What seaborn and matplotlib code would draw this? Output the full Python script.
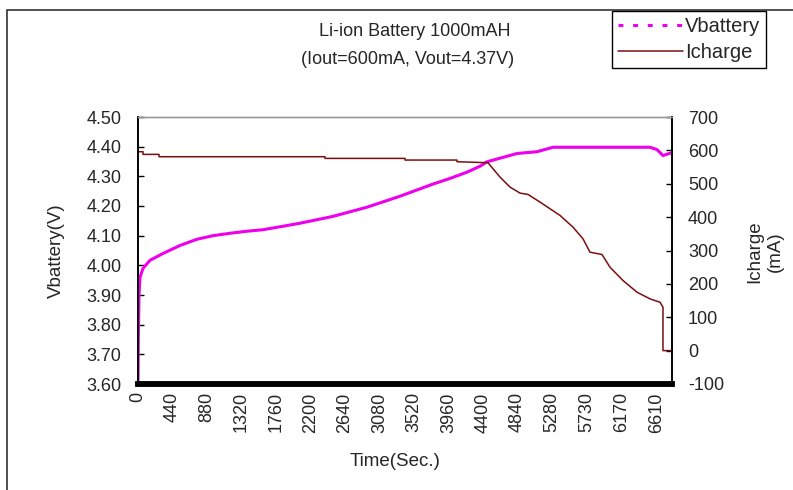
import numpy as np
import pandas as pd
import matplotlib
matplotlib.use("Agg")
import matplotlib.pyplot as plt
from matplotlib.lines import Line2D
from matplotlib.patches import Rectangle
import seaborn as sns

# Data
time_v = [0, 4, 13, 26, 64, 153, 319, 536, 753, 957, 1173, 1390, 1594, 1811,
          2066, 2487, 2921, 3342, 3763, 3980, 4196, 4362, 4451, 4834, 5089,
          5293, 6531, 6620, 6696, 6786]
vbattery = [3.60, 3.75, 3.90, 3.96, 3.99, 4.017, 4.04, 4.067, 4.088, 4.10,
            4.108, 4.115, 4.12, 4.13, 4.142, 4.165, 4.196, 4.233, 4.274,
            4.293, 4.314, 4.334, 4.349, 4.377, 4.383, 4.398, 4.398, 4.39,
            4.37, 4.378]

time_i = [0, 64, 64, 268, 268, 2385, 2385, 3406, 3406, 4069, 4069, 4464,
          4617, 4745, 4872, 4974, 5128, 5383, 5548, 5676, 5765, 5918, 6020,
          6186, 6365, 6531, 6658, 6696, 6696, 6798]
icharge = [596, 596, 588, 588, 581, 581, 576, 576, 571, 571, 566, 563,
           520, 490, 472, 468, 445, 405, 370, 335, 295, 288, 250,
           210, 175, 155, 145, 130, 0, 0]

time_ticks = [0, 440, 880, 1320, 1760, 2200, 2640, 3080, 3520, 3960, 4400,
              4840, 5280, 5730, 6170, 6610]
v_ticks = [3.60, 3.70, 3.80, 3.90, 4.00, 4.10, 4.20, 4.30, 4.40, 4.50]
i_ticks = [-100, 0, 100, 200, 300, 400, 500, 600, 700]

sns.set_theme(style="white")
plt.rcParams['font.family'] = ['Liberation Sans', 'DejaVu Sans']

magenta = '#ee00ee'
brown = '#7a0f0f'
W, H = 793, 490

fig = plt.figure(figsize=(7.93, 4.90), dpi=100)
ax = fig.add_axes([138 / W, 1 - 384 / H, (672 - 138) / W, (384 - 117) / H])
ax2 = ax.twinx()

sns.lineplot(x=time_v, y=vbattery, ax=ax, color=magenta, lw=2.2,
             estimator=None, legend=False)
sns.lineplot(x=time_i, y=icharge, ax=ax2, color=brown, lw=1.1,
             estimator=None, sort=False, legend=False)

ax.set_xlim(0, 6811)
ax.set_ylim(3.60, 4.50)
ax2.set_ylim(-100, 700)
ax.set_xticks(time_ticks)
ax.set_xticklabels([str(t) for t in time_ticks], rotation=90, fontsize=13)
ax.set_yticks(v_ticks)
ax.set_yticklabels([f'{v:.2f}' for v in v_ticks], fontsize=13)
ax2.set_yticks(i_ticks)
ax2.set_yticklabels([str(v) for v in i_ticks], fontsize=13)

ax.tick_params(axis='x', length=0, pad=6)
ax.tick_params(axis='y', direction='in', length=4, width=1, color='black', pad=12)
ax2.tick_params(axis='y', direction='in', length=4, width=1, color='black', pad=11.5)

for a in (ax, ax2):
    a.spines['top'].set_color('#999999')
    a.spines['top'].set_linewidth(1)
    a.spines['left'].set_color('black')
    a.spines['left'].set_linewidth(1.2)
    a.spines['right'].set_color('black')
    a.spines['right'].set_linewidth(1.2)
    a.spines['bottom'].set_color('black')
    a.spines['bottom'].set_linewidth(4)

ax.set_xlabel('Time(Sec.)', fontsize=13.5)
ax.xaxis.set_label_coords((395 - 138) / 534, (384 - 462) / 267)
ax.xaxis.label.set_va('center')
ax.set_ylabel('Vbattery(V)', fontsize=13.5)
ax.yaxis.set_label_coords((56 - 138) / 534, 0.5)
ax.yaxis.label.set_va('center')
ax2.set_ylabel('Icharge\n(mA)', fontsize=13.5, linespacing=1.25)
ax2.yaxis.set_label_coords((765 - 138) / 534, (384 - 252) / 267)
ax2.yaxis.label.set_va('center')

fig.text(415 / W, 1 - 31 / H, 'Li-ion Battery 1000mAH', ha='center', va='center', fontsize=13)
fig.text(408 / W, 1 - 59 / H, '(Iout=600mA, Vout=4.37V)', ha='center', va='center', fontsize=13)

# Outer chart border
fig.patches.append(Rectangle((7 / W, -0.05), 1.1, 1 - 10 / H + 0.05, transform=fig.transFigure,
                             fill=False, edgecolor='#333333', lw=1.2))

handles = [Line2D([0], [0], color=magenta, lw=2.2, linestyle=(0, (1.6, 3.2))),
           Line2D([0], [0], color=brown, lw=1.1)]
leg = fig.legend(handles, ['Vbattery', 'Icharge'], loc='upper right',
                 bbox_to_anchor=(766 / W, 1 - 11 / H), fontsize=14.5,
                 frameon=True, fancybox=False, framealpha=1, edgecolor='black',
                 handlelength=3.2, handletextpad=0.1, labelspacing=0.35,
                 borderpad=0.3, borderaxespad=0)
leg.get_frame().set_linewidth(1)

fig.savefig('out.png', dpi=100)
